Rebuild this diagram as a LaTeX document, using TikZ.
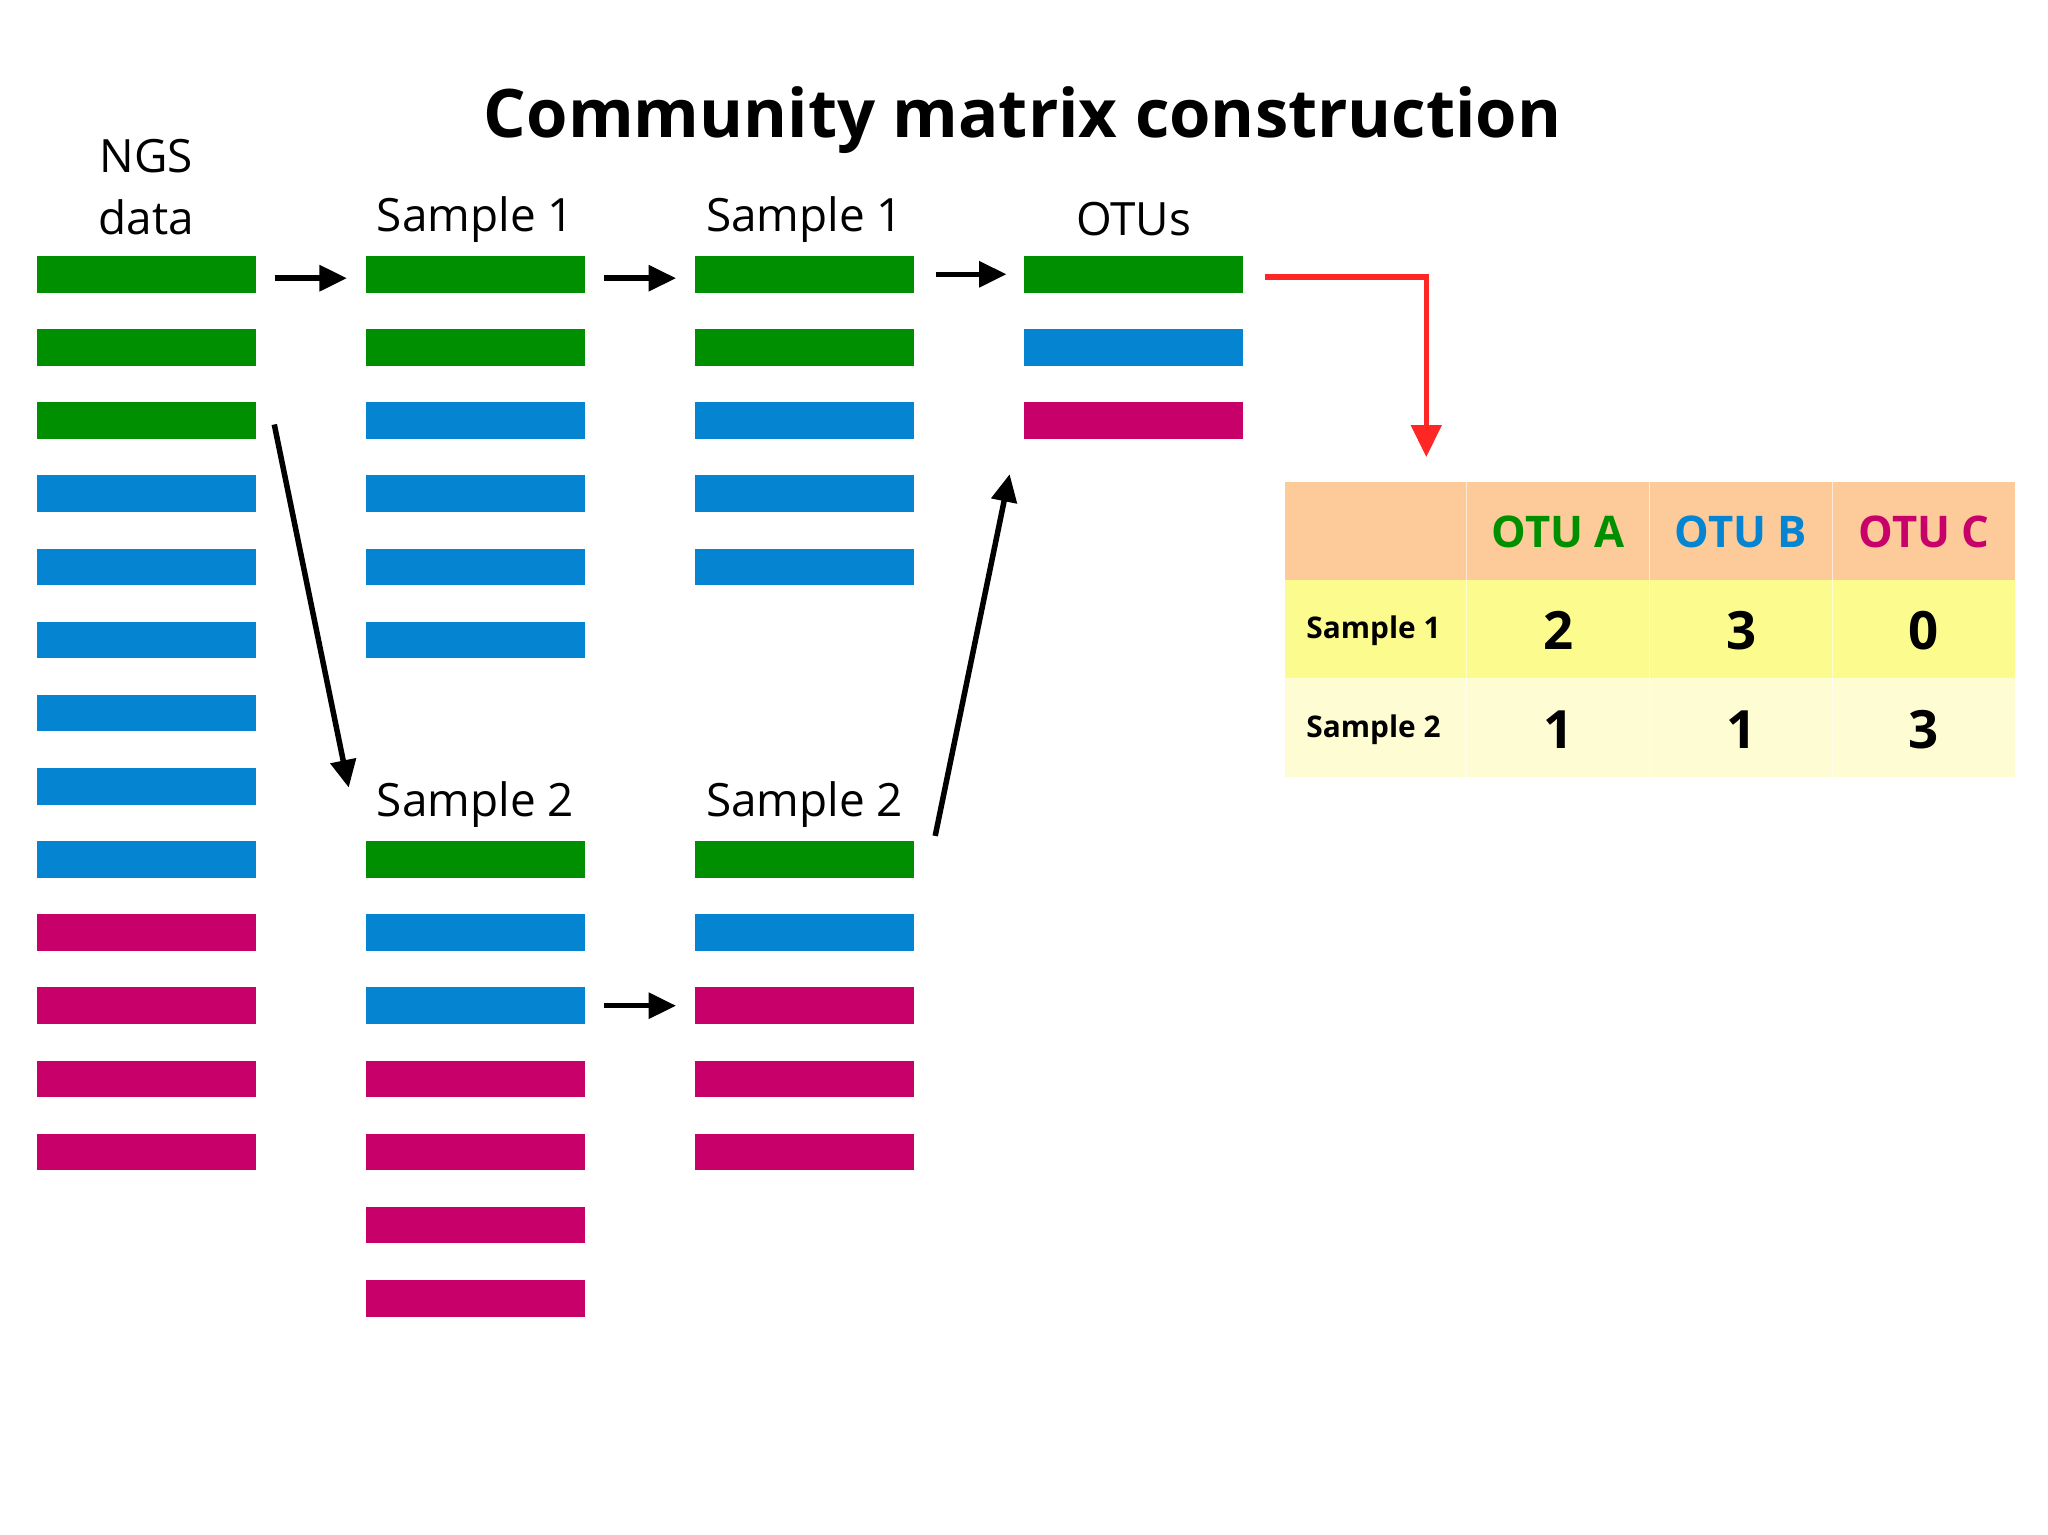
\documentclass[tikz,border=0pt]{standalone}
\usepackage{fontspec}
\setmainfont{Open Sans}
\usetikzlibrary{arrows.meta}
\definecolor{g}{HTML}{008F00}
\definecolor{b}{HTML}{0484D1}
\definecolor{m}{HTML}{C8006A}
\definecolor{peach}{HTML}{FDCB9A}
\definecolor{yel}{HTML}{FCFC8E}
\definecolor{lyel}{HTML}{FEFCD2}
\begin{document}
\begin{tikzpicture}[x=0.02cm,y=-0.02cm,
 bar/.style={minimum width=168*0.02cm,minimum height=28*0.02cm,inner sep=0,draw=none},
 lab/.style={font=\fontsize{20}{27}\selectfont},
 arr/.style={-{Triangle[length=12pt,width=11pt]},line width=2.4pt},
 hd/.style={font=\fontsize{19}{22}\selectfont\bfseries},
 num/.style={font=\fontsize{23}{26}\selectfont\bfseries},
 sl/.style={font=\fontsize{13}{15}\selectfont\bfseries}]
\useasboundingbox (0,0) rectangle (1568,1175);
\node[font=\fontsize{29.2}{34}\selectfont\bfseries] (title) at (783,92) {Community matrix construction};
\node[lab,align=center] (l1) at (112,143) {NGS\\data};
\node[lab] (l2) at (364,168) {Sample 1};
\node[lab] (l3) at (616,168) {Sample 1};
\node[lab] (l4) at (868,168) {OTUs};
\node[lab] (l5) at (364,616) {Sample 2};
\node[lab] (l6) at (616,616) {Sample 2};
\foreach \c [count=\i from 0] in {g,g,g,b,b,b,b,b,b,m,m,m,m}
  \node[bar,fill=\c] (a\i) at (112,210+56*\i) {};
\foreach \c [count=\i from 0] in {g,g,b,b,b,b}
  \node[bar,fill=\c] (s\i) at (364,210+56*\i) {};
\foreach \c [count=\i from 0] in {g,g,b,b,b}
  \node[bar,fill=\c] (t\i) at (616,210+56*\i) {};
\foreach \c [count=\i from 0] in {g,b,m}
  \node[bar,fill=\c] (o\i) at (868,210+56*\i) {};
\foreach \c [count=\i from 0] in {g,b,b,m,m,m,m}
  \node[bar,fill=\c] (u\i) at (364,658+56*\i) {};
\foreach \c [count=\i from 0] in {g,b,m,m,m}
  \node[bar,fill=\c] (v\i) at (616,658+56*\i) {};
\coordinate (c1) at (210,325); \coordinate (c2) at (267,603);
\coordinate (c3) at (716,640); \coordinate (c4) at (773,363);
\draw[arr] ([xshift=14*0.02cm,yshift=-3*0.02cm]a0.east) -- ([xshift=-14*0.02cm,yshift=-3*0.02cm]s0.west);
\draw[arr] ([xshift=14*0.02cm,yshift=-3*0.02cm]s0.east) -- ([xshift=-14*0.02cm,yshift=-3*0.02cm]t0.west);
\draw[arr] ([xshift=16*0.02cm]t0.east) -- ([xshift=-13*0.02cm]o0.west);
\draw[arr] ([xshift=14*0.02cm]u2.east) -- ([xshift=-14*0.02cm]v2.west);
\draw[arr] (c1) -- (c2);
\draw[arr] (c3) -- (c4);
\fill[peach] (984,369) rectangle (1543,444);
\fill[yel] (984,444) rectangle (1543,519);
\fill[lyel] (984,519) rectangle (1543,595);
\foreach \x in {1123,1263,1403}{
 \draw[white,line width=0.6pt,opacity=0.6] (\x,369) -- (\x,595);}
\node[hd,text=g] (ha) at (1193,407) {OTU A};
\node[hd,text=b] (hb) at (1333,407) {OTU B};
\node[hd,text=m] (hc) at (1473,407) {OTU C};
\node[sl,anchor=west] (r1) at (994,483) {Sample 1};
\node[sl,anchor=west] (r2) at (994,559) {Sample 2};
\node[num] at (1193,483) {2};\node[num] at (1333,483) {3};\node[num] at (1473,483) {0};
\node[num] at (1193,559) {1};\node[num] at (1333,559) {1};\node[num] at (1473,559) {3};
\coordinate (tbl) at (1092,350);
\draw[red!85!white,line width=2.4pt,-{Triangle[length=14pt,width=13pt]}] ([xshift=16*0.02cm,yshift=-2*0.02cm]o0.east) -- (1092,212) -- (tbl);
\end{tikzpicture}
\end{document}
